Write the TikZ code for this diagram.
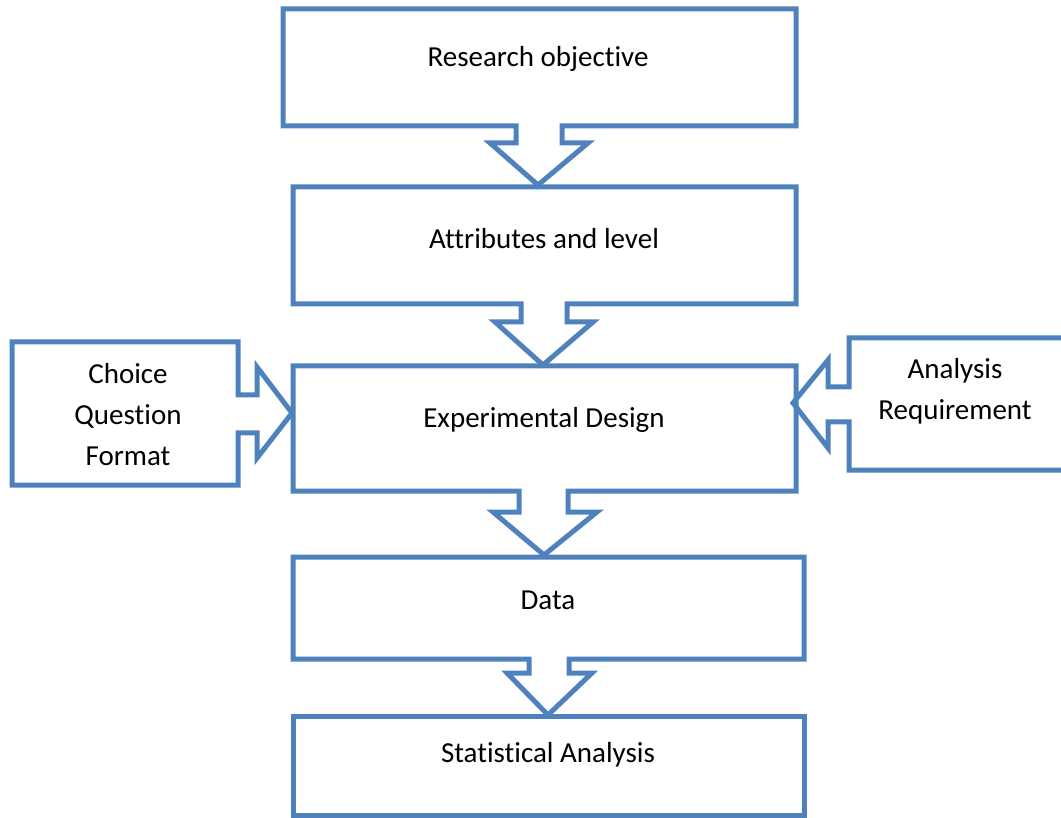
\documentclass[tikz,border=0pt]{standalone}
\usepackage{fontspec}
\setmainfont{Carlito}[Ligatures={NoCommon,NoContextual}]
\definecolor{frame}{HTML}{4F81BD}
\begin{document}
\begin{tikzpicture}[x=1pt,y=-1pt,
  callout/.style={draw=frame,line width=5pt,line join=miter},
  label/.style={font=\fontsize{29}{41}\selectfont,align=center,text=black}]
\useasboundingbox (0,0) rectangle (1061,818);
% main column with downward block arrows
\draw[callout] (283,9) -- (796,9) -- (796,126) -- (562,126) -- (562,143) -- (588,143)
  -- (538,185) -- (490,143) -- (516,143) -- (516,126) -- (283,126) -- cycle;
\draw[callout] (293,187) -- (796,187) -- (796,304) -- (567,304) -- (567,322) -- (593,322)
  -- (543,365) -- (495,322) -- (521,322) -- (521,304) -- (293,304) -- cycle;
\draw[callout] (293,366) -- (796,366) -- (796,491) -- (568,491) -- (568,512) -- (597,512)
  -- (544,555) -- (493,512) -- (519,512) -- (519,491) -- (293,491) -- cycle;
\draw[callout] (293,557) -- (804,557) -- (804,659) -- (569,659) -- (569,673) -- (592,673)
  -- (548,715) -- (507,673) -- (529,673) -- (529,659) -- (293,659) -- cycle;
\draw[callout] (293,716) rectangle (804,815);
% side inputs pointing at the design box
\draw[callout] (12,342) -- (238,342) -- (238,395) -- (257,395) -- (257,367) -- (292,413)
  -- (257,458) -- (257,433) -- (238,433) -- (238,485) -- (12,485) -- cycle;
\draw[callout] (1075,338) -- (849,338) -- (849,387) -- (828,387) -- (828,360) -- (793,403)
  -- (828,448) -- (828,422) -- (849,422) -- (849,470) -- (1075,470);
% labels
\node[label] (obj) at (538,59) {Research objective};
\node[label] (attr) at (544,239) {Attributes and level};
\node[label] (design) at (544,420) {Experimental Design};
\node[label] (data) at (548,600) {Data};
\node[label] (stat) at (548,755) {Statistical Analysis};
\node[label] (choice) at (128,415) {Choice\\Question\\Format};
\node[label] (req) at (955,391) {Analysis\\Requirement};
\end{tikzpicture}
\end{document}
